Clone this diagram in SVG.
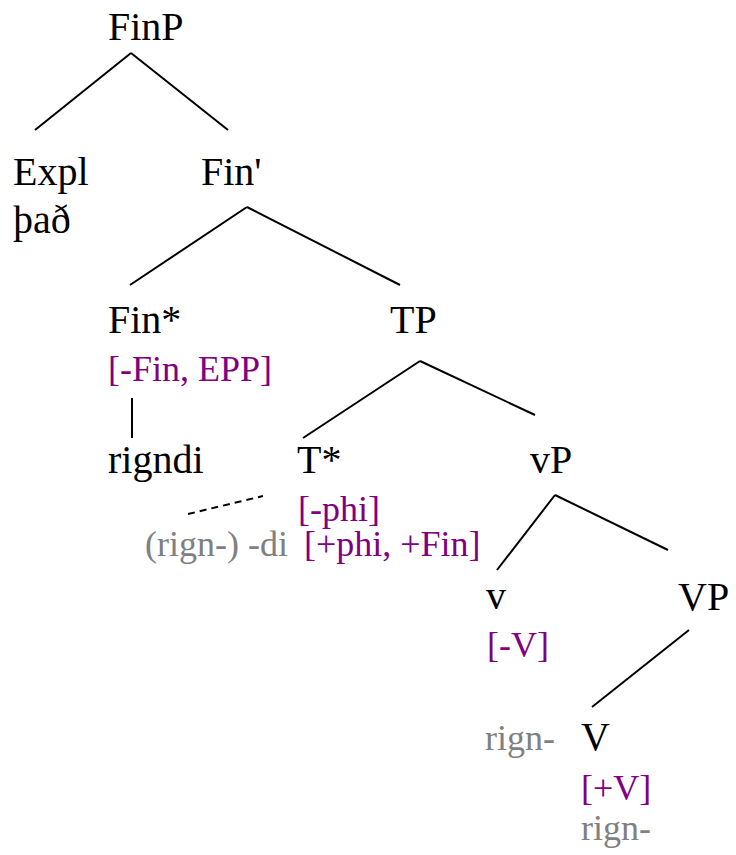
<svg xmlns="http://www.w3.org/2000/svg" width="736" height="855" viewBox="0 0 736 855">
<style>
text{font-family:"Liberation Serif","Times New Roman",Times,"DejaVu Serif",serif;}
.n{font-size:40px;fill:#000;}
.f{font-size:36px;fill:#800080;}
.g{font-size:36px;fill:#808080;}
.e{stroke:#000;stroke-width:2;fill:none;}
.d{stroke:#000;stroke-width:2;fill:none;stroke-dasharray:7,5;}
</style>
<rect width="736" height="855" fill="#fff"/>
<g id="connectors">
<path class="e" d="M131,53 L35,130 M131,53 L228,130"/>
<path class="e" d="M247,207 L130,285 M247,207 L400,285"/>
<path class="e" d="M132,398 L132,438"/>
<path class="e" d="M420,361 L303,438 M420,361 L535,415"/>
<path class="d" d="M188,514 L263,496"/>
<path class="e" d="M555,495 L497,570 M555,495 L668,550"/>
<path class="e" d="M689,630 L592,707"/>
</g>
<g id="FinP"><text class="n" x="108" y="40" font-family="Liberation Serif">FinP</text></g>
<g id="Expl"><text class="n" x="13" y="185">Expl</text><text class="n" x="13" y="233">það</text></g>
<g id="FinBar"><text class="n" x="201" y="185">Fin'</text></g>
<g id="FinStar"><text class="n" x="108" y="333">Fin*</text><text class="f" x="108" y="381">[-Fin, EPP]</text></g>
<g id="rigndi"><text class="n" x="108" y="473">rigndi</text></g>
<g id="TP"><text class="n" x="390" y="333">TP</text></g>
<g id="TStar"><text class="n" x="297" y="473">T*</text><text class="f" x="298" y="521">[-phi]</text><text class="g" x="145" y="556">(rign-) -di</text><text class="f" x="304" y="556">[+phi, +Fin]</text></g>
<g id="vP"><text class="n" x="530" y="473">vP</text></g>
<g id="v"><text class="n" x="486" y="609">v</text><text class="f" x="487" y="657">[-V]</text></g>
<g id="VP"><text class="n" x="678" y="610">VP</text></g>
<g id="V"><text class="g" x="485" y="750">rign-</text><text class="n" x="581" y="750">V</text><text class="f" x="581" y="800">[+V]</text><text class="g" x="581" y="840">rign-</text></g>
</svg>
